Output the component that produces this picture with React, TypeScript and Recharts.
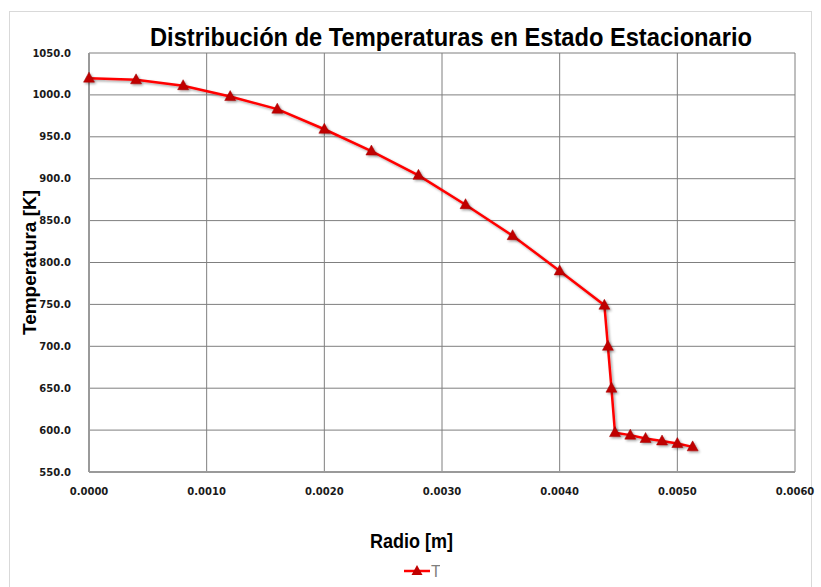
import React from "react";
import {
  LineChart,
  Line,
  XAxis,
  YAxis,
  CartesianGrid,
  Legend,
} from "recharts";

// radial position [m] and temperature [K]
const radius = [
  0, 0.0004, 0.0008, 0.0012, 0.0016, 0.002, 0.0024, 0.0028, 0.0032, 0.0036,
  0.004, 0.00438, 0.00441, 0.00444, 0.00447, 0.0046, 0.00473, 0.00487, 0.005,
  0.00513,
];
const temperature = [
  1020, 1018, 1011, 998, 983, 959, 933, 904, 869, 832, 790, 749, 700, 650, 597,
  594, 590, 587, 584, 580,
];

const xTicks = [0, 0.001, 0.002, 0.003, 0.004, 0.005, 0.006];
const yTicks = [550, 600, 650, 700, 750, 800, 850, 900, 950, 1000, 1050];

const data = radius.map((r, i) => ({ r, T: temperature[i] }));

const W = 821;
const H = 587;
const labelFont = "'Liberation Sans', Arial, sans-serif";
const tickFont = "'DejaVu Sans', Verdana, sans-serif";

const Triangle = (props: any) => {
  const { cx, cy } = props;
  if (cx == null || cy == null) return null;
  return (
    <path
      d={`M${cx},${cy - 6} L${cx + 5.5},${cy + 4} L${cx - 5.5},${cy + 4} Z`}
      fill="#c00000"
      stroke="#a00000"
      strokeWidth={0.5}
      filter="url(#shadow)"
    />
  );
};

const LegendContent = () => (
  <div style={{ display: "flex", justifyContent: "center" }}>
    <svg width={40} height={20}>
      <line x1={4} y1={10} x2={30} y2={10} stroke="#ff0000" strokeWidth={2.5} />
      <path d="M17,4 L22.5,14 L11.5,14 Z" fill="#c00000" />
      <text
        x={31}
        y={16}
        fontFamily="'Liberation Sans', sans-serif"
        fontSize={16}
        fill="#7f7f7f"
      >
        T
      </text>
    </svg>
  </div>
);

export default function App() {
  return (
    <div style={{ position: "absolute", left: 0, top: 0, width: W, height: H, background: "#fff" }}>
      <LineChart
        width={W}
        height={H}
        data={data}
        margin={{ top: 53, right: 26, bottom: 85, left: 9 }}
      >
        <defs>
          <filter id="shadow" x="-50%" y="-50%" width="200%" height="200%">
            <feDropShadow dx={1.5} dy={1.5} stdDeviation={1} floodColor="#000" floodOpacity={0.35} />
          </filter>
        </defs>
        <rect x={9.5} y={11.5} width={802} height={590} fill="none" stroke="#d9d9d9" />
        <text
          x={150}
          y={46}
          textLength={602}
          lengthAdjust="spacingAndGlyphs"
          fontFamily={labelFont}
          fontWeight="bold"
          fontSize={25}
          fill="#000"
        >
          Distribución de Temperaturas en Estado Estacionario
        </text>
        <text
          x={0}
          y={0}
          transform="translate(36,335) rotate(-90)"
          textLength={145}
          lengthAdjust="spacingAndGlyphs"
          fontFamily={labelFont}
          fontWeight="bold"
          fontSize={19}
          fill="#000"
        >
          Temperatura [K]
        </text>
        <text
          x={370}
          y={548}
          textLength={83}
          lengthAdjust="spacingAndGlyphs"
          fontFamily={labelFont}
          fontWeight="bold"
          fontSize={20}
          fill="#000"
        >
          Radio [m]
        </text>
        <CartesianGrid stroke="#7f7f7f" strokeWidth={1} />
        <XAxis
          dataKey="r"
          type="number"
          domain={[0, 0.006]}
          ticks={xTicks}
          tickFormatter={(v: number) => v.toFixed(4)}
          tickLine={false}
          axisLine={{ stroke: "#9a9a9a", strokeWidth: 2 }}
          tick={{ fill: "#1a1a1a", fontSize: 10, fontWeight: "bold", fontFamily: tickFont }}
          tickMargin={10}
          height={30}
        />
        <YAxis
          type="number"
          domain={[550, 1050]}
          ticks={yTicks}
          tickFormatter={(v: number) => v.toFixed(1)}
          tickLine={false}
          axisLine={{ stroke: "#9a9a9a", strokeWidth: 2 }}
          tick={{ fill: "#1a1a1a", fontSize: 10, fontWeight: "bold", fontFamily: tickFont }}
          tickMargin={12}
          width={80}
        />
        <Legend
          verticalAlign="middle"
          content={<LegendContent />}
          wrapperStyle={{ top: 561, left: 0, width: 840 }}
        />
        <Line
          dataKey="T"
          name="T"
          stroke="#ff0000"
          strokeWidth={2.5}
          dot={<Triangle />}
          activeDot={false}
          filter="url(#shadow)"
          isAnimationActive={false}
        />
      </LineChart>
    </div>
  );
}
